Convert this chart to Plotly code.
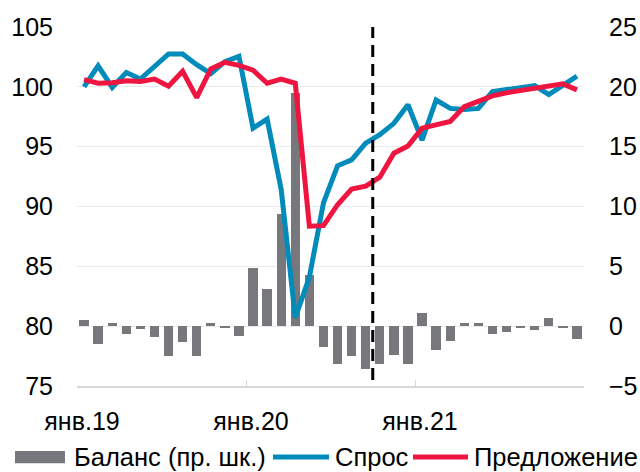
import plotly.graph_objects as go

# months Jan 2019 .. Dec 2021 as index 0..35
months = list(range(36))
tick_vals = [-0.5, 11.5, 23.5, 35.5]
tick_text = ['янв.19', 'янв.20', 'янв.21', '']

demand = [100.0, 101.75, 99.95, 101.2, 100.65, 101.7, 102.75, 102.75, 101.85, 101.1, 102.1, 102.55,
          96.55, 97.3, 91.4, 80.7, 84.1, 90.3, 93.4, 93.9, 95.3, 96.0, 96.95, 98.5,
          95.55, 98.9, 98.2, 98.1, 98.2, 99.6, 99.75, 99.9, 100.1, 99.35, 100.15, 100.9]
supply = [100.6, 100.3, 100.35, 100.5, 100.45, 100.65, 100.05, 101.3, 99.1, 101.5, 102.05, 101.8,
          101.4, 100.3, 100.65, 100.3, 88.35, 88.4, 90.15, 91.45, 91.7, 92.45, 94.45, 95.05,
          96.55, 96.85, 97.1, 98.35, 98.75, 99.25, 99.5, 99.7, 99.9, 100.1, 100.25, 99.75]
balance = [0.5, -1.45, 0.28, -0.64, -0.22, -0.9, -2.5, -1.3, -2.5, 0.28, -0.1, -0.78,
           4.9, 3.1, 9.35, 19.45, 4.3, -1.75, -3.2, -2.5, -3.6, -3.2, -2.4, -3.2,
           1.1, -2.0, -1.2, 0.28, 0.28, -0.64, -0.5, -0.1, -0.28, 0.7, -0.1, -1.05]
cutoff = 20.5  # between Sep and Oct 2020

GREY, BLUE, RED = '#77787B', '#008BBB', '#EE1540'
FAMILY = 'Arial, Liberation Sans, sans-serif'
tick_font = dict(family=FAMILY, size=25, color='#000000')
legend_font = dict(family=FAMILY, size=25.5, color='#000000')

fig = go.Figure()

# balance bars (right axis, drawn underneath)
fig.add_trace(go.Bar(
    x=months, y=balance, name='Баланс (пр. шк.)',
    marker=dict(color=GREY, line=dict(width=0)),
    width=0.66, yaxis='y', showlegend=False
))

# demand and supply (left axis)
fig.add_trace(go.Scatter(
    x=months, y=demand, name='Спрос', mode='lines',
    line=dict(color=BLUE, width=5), yaxis='y2', showlegend=False
))
fig.add_trace(go.Scatter(
    x=months, y=supply, name='Предложение', mode='lines',
    line=dict(color=RED, width=5), yaxis='y2', showlegend=False
))

fig.add_shape(
    type='line', xref='x', yref='paper',
    x0=cutoff, x1=cutoff, y0=0.017, y1=1.0,
    line=dict(color='#000000', width=3, dash='12px,7px')
)

# legend drawn by hand so the swatches match the original
leg_y = -0.198
fig.add_shape(type='rect', xref='paper', yref='paper', x0=-0.1223, x1=-0.0237,
              y0=leg_y - 0.017, y1=leg_y + 0.017, fillcolor=GREY, line=dict(width=0))
fig.add_shape(type='line', xref='paper', yref='paper', x0=0.3866, x1=0.497,
              y0=leg_y, y1=leg_y, line=dict(color=BLUE, width=5))
fig.add_shape(type='line', xref='paper', yref='paper', x0=0.6627, x1=0.7712,
              y0=leg_y, y1=leg_y, line=dict(color=RED, width=5))
for x, txt in [(-0.0108, 'Баланс (пр. шк.)'), (0.5045, 'Спрос'), (0.7785, 'Предложение')]:
    fig.add_annotation(x=x, y=leg_y, xref='paper', yref='paper', text=txt,
                       showarrow=False, xanchor='left', yanchor='middle', font=legend_font)

fig.update_layout(
    width=640, height=472,
    margin=dict(l=77, r=56, t=27, b=86),
    paper_bgcolor='white', plot_bgcolor='white',
    font=tick_font,
    bargap=0,
    xaxis=dict(
        range=[-0.5, 35.5], tickvals=tick_vals, ticktext=tick_text,
        showgrid=False, zeroline=False, showline=True, linecolor='#D9D9D9', linewidth=2,
        ticks='inside', ticklen=6, tickcolor='#D9D9D9', tickwidth=1,
        ticklabelshift=5, ticklabelstandoff=12, automargin=False, tickfont=tick_font
    ),
    yaxis=dict(
        side='right', range=[-5, 25], dtick=5,
        showgrid=True, gridcolor='#EBEBEB', gridwidth=1, zeroline=False,
        ticks='', ticklabelstandoff=24, automargin=False, tickfont=tick_font
    ),
    yaxis2=dict(
        overlaying='y', side='left', range=[75, 105], dtick=5,
        showgrid=False, zeroline=False, ticks='', ticklabelstandoff=23,
        automargin=False, tickfont=tick_font
    ),
)

# drop the default page margin so the chart sits at the window's corner
fig.write_html('out.html', config={'displayModeBar': False},
               post_script="document.body.style.margin='0';")
